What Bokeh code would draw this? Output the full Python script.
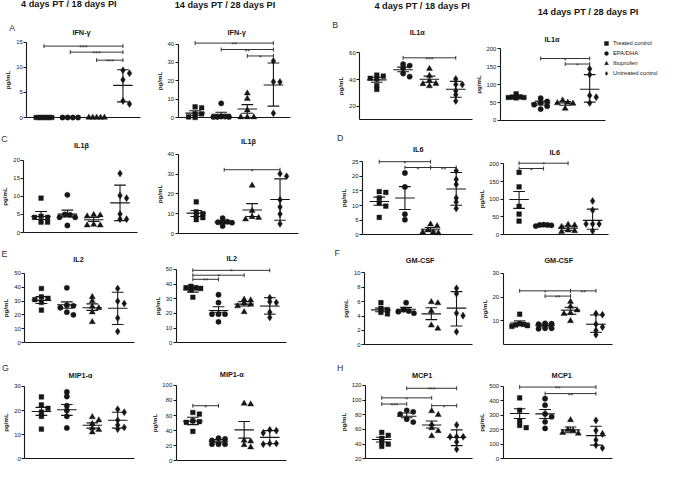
from bokeh.plotting import figure
from bokeh.models import Label, Legend, LegendItem, FixedTicker, Range1d
from bokeh.layouts import column, row
from bokeh.core.properties import value
from bokeh.embed import file_html
from bokeh.resources import INLINE

SX = 0.976
SY = 0.967
FONT = "Liberation Sans"
INK = "#161616"
BRK = "#333333"

GROUPS = ["Treated control", "EPA/DHA", "Ibuprofen", "Untreated control"]
H4 = "4 days PT / 18 days PI"
H14 = "14 days PT / 28 days PI"

# ---------------- data (pg/mL) ----------------
# A  IFN-gamma
ifng_4_pts = [[0, 0, 0, 0, 0, 0, 0], [0, 0, 0, 0], [0, 0, 0, 0, 0], [9.4, 8.8, 7.5, 3.3, 2.7]]
ifng_4_mean = [0, 0, 0, 6.4]
ifng_4_lo = [0, 0, 0, 3.1]
ifng_4_hi = [0, 0, 0, 9.5]
ifng_4_sig = [(1, 4, 14.2, "***"), (2, 4, 13.0, "***"), (3, 4, 11.4, "***")]
ifng_4_ticks = [0, 5, 10, 15]

ifng_14_pts = [[5.8, 5.3, 2.0, 2.0, 0.3, 0.0], [7.7, 0.5, 0.5, 0.3, 0.3, 0.3],
               [13.2, 10.2, 4.0, 0.2, 0.2, 0.2], [30.7, 19.5, 19.3, 2.3]]
ifng_14_mean = [2.4, 1.8, 4.6, 17.7]
ifng_14_lo = [1.2, 0.7, 2.3, 6.2]
ifng_14_hi = [3.7, 2.9, 7.0, 29.7]
ifng_14_sig = [(1, 4, 40.5, "**"), (2, 4, 37.0, "**"), (3, 4, 33.5, "*")]
ifng_14_ticks = [0, 10, 20, 30, 40]

# B  IL1-alpha
il1a_4_pts = [[43.3, 42.6, 41, 40.5, 35.6, 32.7], [51.5, 50.4, 48.5, 44.5, 42.2],
              [48, 42.9, 39.1, 37, 36.8, 35.2], [40.5, 36.3, 36.3, 31.6, 28.8, 24.1]]
il1a_4_mean = [39.8, 47.3, 40.3, 32.8]
il1a_4_lo = [38.0, 45.8, 38.0, 26.9]
il1a_4_hi = [41.7, 49.3, 42.6, 38.7]
il1a_4_sig = [(2, 4, 56.2, "***")]
il1a_4_ticks = [20, 40, 60]

il1a_14_pts = [[74, 66, 65, 64, 64, 63], [62, 53, 49.5, 44, 39.7, 31.6],
               [56, 50, 48.6, 47, 33], [144, 128, 69.5, 65, 48.6]]
il1a_14_mean = [64.5, 48.6, 48.6, 87]
il1a_14_lo = [62.5, 43, 42.4, 51]
il1a_14_hi = [66.5, 54, 53, 128]
il1a_14_sig = [(2, 4, 173, "*"), (3, 4, 157.6, "*")]
il1a_14_ticks = [0, 50, 100, 150, 200]

# C  IL1-beta
il1b_4_pts = [[9.5, 4.5, 4.2, 4.2, 2.9, 2.9], [10.4, 5.0, 4.9, 4.2, 4.2, 1.95],
              [4.9, 4.8, 4.5, 2.2, 2.0, 2.0], [16.3, 10.2, 9.5, 5.1, 3.7, 3.7]]
il1b_4_mean = [4.45, 5.1, 3.55, 8.2]
il1b_4_lo = [3.6, 4.3, 3.1, 3.3]
il1b_4_hi = [5.8, 6.2, 4.2, 13.1]
il1b_4_sig = []
il1b_4_ticks = [0, 5, 10, 15, 20]

il1b_14_pts = [[16, 11, 10, 9, 8, 7], [7.8, 6.0, 5.8, 5.7, 5.5, 3.8],
               [24.2, 11.5, 8.4, 8.0, 7.2], [30.2, 28.9, 17.0, 13.4, 9.8, 4.9]]
il1b_14_mean = [10.3, 5.8, 11.9, 17.2]
il1b_14_lo = [8.6, 5.0, 8.6, 6.7]
il1b_14_hi = [11.6, 6.6, 15.1, 27.6]
il1b_14_sig = [(2, 4, 32.2, "*")]
il1b_14_ticks = [0, 10, 20, 30, 40]

# D  IL6
il6_4_pts = [[14.8, 14.5, 12.6, 10.9, 9.8, 5.9], [21.2, 16.4, 7.0, 5.1],
             [3.5, 2.9, 1.5, 0.8, 0.8, 0.5], [22.0, 19.0, 17.3, 12.6, 11.2, 9.0]]
il6_4_mean = [11.4, 12.6, 1.8, 15.7]
il6_4_lo = [10.1, 8.6, 1.2, 10.1]
il6_4_hi = [12.9, 16.5, 2.4, 21.4]
il6_4_sig = [(1, 3, 25.1, "*"), (2, 3, 23.1, "*"), (3, 4, 23.1, "**")]
il6_4_ticks = [0, 5, 10, 15, 20, 25]

il6_14_pts = [[176, 135, 80, 58, 38], [28, 27, 27, 26, 24],
              [28, 26, 22, 12, 10, 8], [95, 69, 30, 30, 30, 10]]
il6_14_mean = [99, 26, 18, 40]
il6_14_lo = [74, 24, 12, 15]
il6_14_hi = [122, 28, 24, 72]
il6_14_sig = [(1, 2, 187, "*"), (1, 3, 202, "*")]
il6_14_ticks = [0, 50, 100, 150, 200]

# E  IL2
il2_4_pts = [[39, 33, 32, 31, 29, 23.5], [39.5, 27, 26.6, 25.2, 22, 20.1],
             [33, 30, 26, 25, 22, 15], [39, 29.9, 28.2, 17.8, 8.1]]
il2_4_mean = [30.5, 27.3, 25.2, 24.8]
il2_4_lo = [28.2, 24.8, 23.3, 13.2]
il2_4_hi = [33.2, 29.4, 28.0, 36.3]
il2_4_sig = []
il2_4_ticks = [0, 10, 20, 30, 40, 50]

il2_14_pts = [[38.5, 37.5, 37.5, 37, 36, 31], [32.7, 27.4, 19.5, 19.5, 19.5, 14.3],
              [29.5, 29, 27, 26, 25, 21], [30.7, 28, 27.4, 20.8, 17.3]]
il2_14_mean = [36, 22, 26.3, 25]
il2_14_lo = [34.5, 20.8, 25, 19.5]
il2_14_hi = [38, 24.5, 28, 30.7]
il2_14_sig = [(1, 2, 43.2, "**"), (1, 3, 46, "*"), (1, 4, 49.3, "*")]
il2_14_ticks = [0, 10, 20, 30, 40, 50]

# F  GM-CSF
gmcsf_4_pts = [[5.85, 5.05, 4.9, 4.5, 4.3], [5.85, 4.9, 4.7, 4.6, 4.4],
               [5.95, 5.8, 4.7, 2.7, 2.25], [7.85, 7.1, 4.4, 4.05, 1.8]]
gmcsf_4_mean = [4.85, 4.95, 4.3, 5.1]
gmcsf_4_lo = [4.6, 4.6, 3.5, 2.6]
gmcsf_4_hi = [5.1, 5.2, 5.15, 7.4]
gmcsf_4_sig = []
gmcsf_4_ticks = [0, 2, 4, 6, 8, 10]

gmcsf_14_pts = [[12.8, 8.8, 8.5, 8.3, 8.0, 7.7], [9.0, 8.8, 8.6, 6.9, 6.9, 6.7],
                [18, 16, 14.5, 13.3, 13, 10], [13.1, 12.6, 8.6, 7.4, 6.0, 4.2]]
gmcsf_14_mean = [9.1, 8.1, 14.5, 8.6]
gmcsf_14_lo = [8.3, 7.5, 12.8, 5.2]
gmcsf_14_hi = [10, 8.7, 15.7, 12.5]
gmcsf_14_sig = [(1, 3, 22.6, "*"), (3, 4, 22.6, "**"), (2, 3, 20.4, "**")]
gmcsf_14_ticks = [10, 20, 30]

# G  MIP1-alpha
mip1a_4_pts = [[25.6, 22.3, 20.9, 19.3, 17.6, 12.3], [27.7, 25.8, 22, 20, 17.6, 12.8],
               [17.3, 16, 14.5, 12.7, 12, 11], [20.5, 19.3, 16, 14, 13, 12.3]]
mip1a_4_mean = [19.6, 20.3, 13.9, 16]
mip1a_4_lo = [18, 18, 12.7, 12.7]
mip1a_4_hi = [21.3, 22.5, 14.9, 19.3]
mip1a_4_sig = []
mip1a_4_ticks = [0, 10, 20, 30]

mip1a_14_pts = [[64, 62, 53, 52, 51, 39], [30, 29, 27, 22, 22, 22],
                [76, 75, 27, 26, 21, 18], [41, 40, 37, 23, 23, 22]]
mip1a_14_mean = [52.6, 26, 41, 31]
mip1a_14_lo = [48, 24, 30, 22.5]
mip1a_14_hi = [57.7, 28, 52, 40]
mip1a_14_sig = [(1, 2, 73, "*")]
mip1a_14_ticks = [0, 20, 40, 60, 80, 100]

# H  MCP1
mcp1_4_pts = [[56, 52, 48, 43, 40, 37], [86, 84, 81, 74, 70],
              [85, 80, 67, 62, 58, 51], [66, 50, 50, 50, 43, 33]]
mcp1_4_mean = [46.3, 78, 66, 49]
mcp1_4_lo = [43, 76, 62, 38]
mcp1_4_hi = [49.3, 82.5, 71.6, 59.5]
mcp1_4_sig = [(2, 4, 116, "***"), (1, 3, 103, "*"), (1, 2, 94.6, "***"), (3, 4, 92.4, "*")]
mcp1_4_ticks = [20, 40, 60, 80, 100, 120]

mcp1_14_pts = [[420, 335, 260, 230, 215], [415, 370, 310, 290, 255, 210],
               [268, 200, 195, 180, 175], [265, 195, 172, 130, 95, 75]]
mcp1_14_mean = [313, 310, 200, 160]
mcp1_14_lo = [278, 278, 180, 95]
mcp1_14_hi = [345, 340, 220, 225]
mcp1_14_sig = [(1, 4, 495, "**"), (2, 4, 450, "**")]
mcp1_14_ticks = [0, 100, 200, 300, 400, 500]

# ---------------- layout (reference pixel geometry) ----------------
COLS = [round(v * SX) for v in (0, 152, 335, 485, 675)]
ROWS = [round(v * SY) for v in (0, 130, 250, 364, 479)]
MARKERS = ["square", "circle", "triangle", "diamond"]
MSIZE = [4.7, 5.3, 6.1, 7.1]
XA0, XA1 = 0.35, 4.65


def P(name, d, ymin, frame, tpos, r, c, letter=None, header=None, legend=False):
    return dict(name=name, pts=d[0], mean=d[1], lo=d[2], hi=d[3], sig=d[4], ticks=d[5],
                ymin=ymin, frame=frame, tpos=tpos, r=r, c=c, letter=letter,
                header=header, legend=legend)


# frame = (axis left px, axis right px, px of ymin, px of top tick) in reference pixels
PANELS = [
    P("IFN-γ", (ifng_4_pts, ifng_4_mean, ifng_4_lo, ifng_4_hi, ifng_4_sig, ifng_4_ticks), 0,
      (27, 143, 121, 43), (83, 33), 0, 0, ("A", 12, 28), (H4, 70, 4)),
    P("IFN-γ", (ifng_14_pts, ifng_14_mean, ifng_14_lo, ifng_14_hi, ifng_14_sig, ifng_14_ticks), 0,
      (182, 297, 121, 45), (242, 33), 0, 1, None, (H14, 230, 5)),
    P("IL1α", (il1a_4_pts, il1a_4_mean, il1a_4_lo, il1a_4_hi, il1a_4_sig, il1a_4_ticks), 10,
      (368, 484, 123.5, 54), (427, 33), 0, 2, ("B", 343, 25), (H4, 432, 5.5)),
    P("IL1α", (il1a_14_pts, il1a_14_mean, il1a_14_lo, il1a_14_hi, il1a_14_sig, il1a_14_ticks), 0,
      (512, 620, 124, 50), (565, 40), 0, 3, None, (H14, 602, 11.5), True),
    P("IL1β", (il1b_4_pts, il1b_4_mean, il1b_4_lo, il1b_4_hi, il1b_4_sig, il1b_4_ticks), 0,
      (24, 140, 240, 165), (83, 150), 1, 0, ("C", 4, 143)),
    P("IL1β", (il1b_14_pts, il1b_14_mean, il1b_14_lo, il1b_14_hi, il1b_14_sig, il1b_14_ticks), 0,
      (182, 305, 241, 159), (254, 146), 1, 1),
    P("IL6", (il6_4_pts, il6_4_mean, il6_4_lo, il6_4_hi, il6_4_sig, il6_4_ticks), 0,
      (371, 484, 242, 167), (428, 154), 1, 2, ("D", 348, 142)),
    P("IL6", (il6_14_pts, il6_14_mean, il6_14_lo, il6_14_hi, il6_14_sig, il6_14_ticks), 0,
      (515, 623, 242, 169), (568, 157), 1, 3),
    P("IL2", (il2_4_pts, il2_4_mean, il2_4_lo, il2_4_hi, il2_4_sig, il2_4_ticks), 0,
      (25, 137, 354, 282), (80, 268), 2, 0, ("E", 4, 262)),
    P("IL2", (il2_14_pts, il2_14_mean, il2_14_lo, il2_14_hi, il2_14_sig, il2_14_ticks), 0,
      (180, 293, 354, 278), (237, 267), 2, 1),
    P("GM-CSF", (gmcsf_4_pts, gmcsf_4_mean, gmcsf_4_lo, gmcsf_4_hi, gmcsf_4_sig, gmcsf_4_ticks), 0,
      (373, 484, 356, 281.7), (430, 269), 2, 2, ("F", 345, 261)),
    P("GM-CSF", (gmcsf_14_pts, gmcsf_14_mean, gmcsf_14_lo, gmcsf_14_hi, gmcsf_14_sig, gmcsf_14_ticks), 0,
      (515, 627, 356, 282), (572, 269), 2, 3),
    P("MIP1-α", (mip1a_4_pts, mip1a_4_mean, mip1a_4_lo, mip1a_4_hi, mip1a_4_sig, mip1a_4_ticks), 0,
      (25, 137, 474, 399), (82, 388), 3, 0, ("G", 5, 380)),
    P("MIP1-α", (mip1a_14_pts, mip1a_14_mean, mip1a_14_lo, mip1a_14_hi, mip1a_14_sig, mip1a_14_ticks), 0,
      (180, 293, 476, 398), (237, 387), 3, 1),
    P("MCP1", (mcp1_4_pts, mcp1_4_mean, mcp1_4_lo, mcp1_4_hi, mcp1_4_sig, mcp1_4_ticks), 20,
      (374, 484, 474, 398), (432, 388), 3, 2, ("H", 348, 380)),
    P("MCP1", (mcp1_14_pts, mcp1_14_mean, mcp1_14_lo, mcp1_14_hi, mcp1_14_sig, mcp1_14_ticks), 0,
      (515, 627, 474, 399), (575, 388), 3, 3),
]


def swarm(vals, ppu_ref):
    """Beeswarm-like horizontal offsets (reference px) so markers do not sit on each other."""
    D, THR, DMAX = 6.7, 3.8, 8.0
    n = len(vals)
    order = sorted(range(n), key=lambda i: -vals[i])
    ks = [0] * n
    placed = []
    seq = [0, 1, -1, 2, -2, 3, -3, 4, -4, 5, -5]
    for i in order:
        y = vals[i] * ppu_ref
        k = 0
        for k in seq:
            if all(not (kk == k and abs(yy - y) < THR) for kk, yy in placed):
                break
        placed.append((k, y))
        ks[i] = k
    offs = [k * D for k in ks]
    srt = sorted(range(n), key=lambda i: vals[i])
    clusters, cur = [], [srt[0]]
    for a, b in zip(srt, srt[1:]):
        if (vals[b] - vals[a]) * ppu_ref < THR:
            cur.append(b)
        else:
            clusters.append(cur)
            cur = [b]
    clusters.append(cur)
    for cl in clusters:
        if max(abs(offs[i]) for i in cl) > DMAX:
            m = sum(offs[i] for i in cl) / len(cl)
            sh = [offs[i] - m for i in cl]
            mm = max(abs(v) for v in sh)
            for i, v in zip(cl, sh):
                offs[i] = v * DMAX / mm
    return offs


def build(cfg):
    ci, ri = cfg["c"], cfg["r"]
    cl, cr = COLS[ci], COLS[ci + 1]
    rt, rb = ROWS[ri], ROWS[ri + 1]
    L, R, B, Tt = cfg["frame"]
    ymin, ytop = cfg["ymin"], cfg["ticks"][-1]
    ppu_ref = (B - Tt) / (ytop - ymin)
    ppu = ppu_ref * SY
    ppx = (R - L) * SX / (XA1 - XA0)
    xs = XA0 - (L * SX - cl) / ppx
    xe = XA0 + (cr - L * SX) / ppx
    ys = ymin - (rb - B * SY) / ppu
    ye = ytop + (Tt * SY - rt) / ppu

    def dx(px):
        return xs + (px * SX - cl) / ppx

    def dy(py):
        return ye - (py * SY - rt) / ppu

    p = figure(width=cr - cl, height=rb - rt, x_range=Range1d(xs, xe), y_range=Range1d(ys, ye),
               min_border=0, min_border_left=0, min_border_right=0,
               min_border_top=0, min_border_bottom=0,
               output_backend="svg", toolbar_location=None, tools="", title=None)
    p.xgrid.visible = False
    p.ygrid.visible = False
    p.outline_line_color = None
    p.background_fill_color = "white"
    p.border_fill_color = "white"

    xa = p.xaxis[0]
    xa.ticker = FixedTicker(ticks=[])
    xa.fixed_location = ymin
    xa.bounds = (XA0, XA1)
    xa.major_tick_out = 0
    xa.major_tick_in = 0
    xa.minor_tick_out = 0
    xa.minor_tick_in = 0
    xa.major_label_standoff = 0
    xa.major_label_text_font_size = "0px"
    xa.axis_line_color = INK
    xa.axis_line_width = 1.1

    ya = p.yaxis[0]
    ya.ticker = FixedTicker(ticks=cfg["ticks"])
    ya.fixed_location = XA0
    ya.bounds = (ymin, ytop)
    ya.axis_line_color = INK
    ya.axis_line_width = 1.1
    ya.major_tick_out = 3
    ya.major_tick_in = 0
    ya.minor_tick_out = 0
    ya.minor_tick_in = 0
    ya.major_tick_line_color = INK
    ya.major_label_text_font = FONT
    ya.major_label_text_font_size = "5.9px"
    ya.major_label_text_color = INK
    ya.major_label_standoff = 1
    ya.axis_label = "pg/mL"
    ya.axis_label_text_font = FONT
    ya.axis_label_text_font_size = "6.2px"
    ya.axis_label_text_font_style = "bold"
    ya.axis_label_text_color = INK
    ya.axis_label_standoff = 2

    rends = []
    for g in range(4):
        vals = cfg["pts"][g]
        offs = swarm(vals, ppu_ref)
        xsg = [g + 1 + o * SX / ppx for o in offs]
        r = p.scatter(xsg, vals, marker=MARKERS[g], size=MSIZE[g],
                      fill_color=INK, line_color=INK, line_width=0.4)
        rends.append(r)

    gx = [1, 2, 3, 4]
    mh = 10 * SX / ppx
    ch = 6 * SX / ppx
    mean, lo, hi = cfg["mean"], cfg["lo"], cfg["hi"]
    p.segment(x0=[x - mh for x in gx], y0=mean, x1=[x + mh for x in gx], y1=mean,
              line_color=INK, line_width=1.1)
    p.segment(x0=gx, y0=lo, x1=gx, y1=hi, line_color=INK, line_width=1.1)
    p.segment(x0=[x - ch for x in gx], y0=lo, x1=[x + ch for x in gx], y1=lo,
              line_color=INK, line_width=1.1)
    p.segment(x0=[x - ch for x in gx], y0=hi, x1=[x + ch for x in gx], y1=hi,
              line_color=INK, line_width=1.1)

    if cfg["sig"]:
        cap = 2.0 * SY / ppu
        bi = [s[0] for s in cfg["sig"]]
        bj = [s[1] for s in cfg["sig"]]
        by = [s[2] for s in cfg["sig"]]
        bt = [s[3] for s in cfg["sig"]]
        p.segment(x0=bi, y0=by, x1=bj, y1=by, line_color=BRK, line_width=1)
        p.segment(x0=bi + bj, y0=[y - cap for y in by + by], x1=bi + bj,
                  y1=[y + cap for y in by + by], line_color=BRK, line_width=1)
        p.text(x=[(a + b) / 2 for a, b in zip(bi, bj)], y=by, text=bt,
               text_font=value(FONT), text_font_size="7px", text_align="center",
               text_baseline="alphabetic", y_offset=1.5, text_color=BRK)

    def lab(text, x, y, size, style="normal", color=INK):
        p.add_layout(Label(x=dx(x), y=dy(y), text=text, text_font=FONT,
                           text_font_size=f"{size}px", text_font_style=style,
                           text_align="center", text_baseline="middle", text_color=color))

    lab(cfg["name"], cfg["tpos"][0], cfg["tpos"][1], 7.3, "bold")
    if cfg["letter"]:
        t, x, y = cfg["letter"]
        lab(t, x, y, 8.8, "normal", "#333333")
    if cfg["header"]:
        t, x, y = cfg["header"]
        lab(t, x, y, 9.2, "bold")

    if cfg["legend"]:
        items = [LegendItem(label=GROUPS[g], renderers=[rends[g]]) for g in range(4)]
        leg = Legend(items=items, location=(round(621 * SX - 5 - cl), round(rb - 80.5 * SY)),
                     orientation="vertical", glyph_width=10, glyph_height=10, label_height=10,
                     label_standoff=2, spacing=0, padding=0, margin=0,
                     label_text_font=FONT, label_text_font_size="5.8px",
                     label_text_color=INK, border_line_color=None,
                     background_fill_alpha=0)
        p.add_layout(leg)
    return p


grid = [[None] * 4 for _ in range(4)]
for cfg in PANELS:
    grid[cfg["r"]][cfg["c"]] = build(cfg)

layout = column(*[row(*rw, spacing=0) for rw in grid], spacing=0)
open("out.html", "w").write(file_html(layout, INLINE, title="Cytokines"))
